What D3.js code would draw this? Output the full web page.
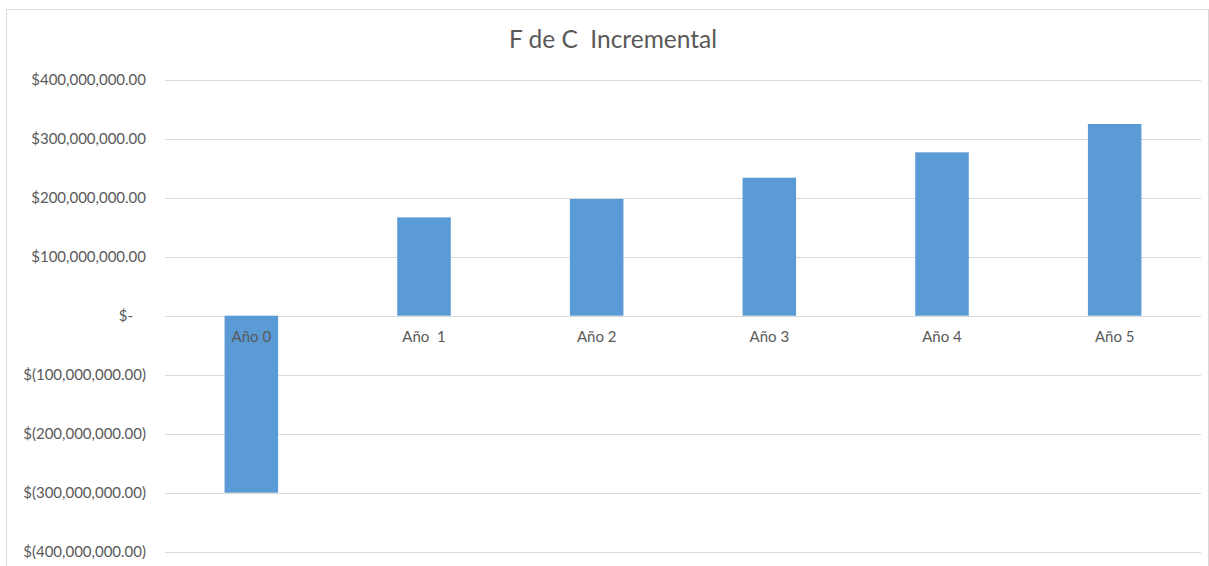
<!DOCTYPE html>
<html>
<head>
<meta charset="utf-8">
<script src="https://cdn.jsdelivr.net/npm/d3@7"></script>
<style>
  body { margin: 0; background: #fff; }
  svg text { font-family: Lato, "Open Sans", sans-serif; fill: #595959; }
</style>
</head>
<body>
<svg id="chart" width="1209" height="566"></svg>
<script>
// cash flow by year
const categories = ['Año 0', 'Año  1', 'Año 2', 'Año 3', 'Año 4', 'Año 5'];
const values = [-300000000, 166700000, 197800000, 233900000, 276900000, 324900000];
const tickValues = [400000000, 300000000, 200000000, 100000000, 0, -100000000, -200000000, -300000000, -400000000];
const tickLabels = ['$400,000,000.00', '$300,000,000.00', '$200,000,000.00', '$100,000,000.00', '$-',
  '$(100,000,000.00)', '$(200,000,000.00)', '$(300,000,000.00)', '$(400,000,000.00)'];
const title = 'F de C  Incremental';

const svg = d3.select('#chart');

// chart frame
svg.append('rect')
  .attr('x', 6.5).attr('y', 9.5)
  .attr('width', 1202).attr('height', 600)
  .attr('fill', 'none')
  .attr('stroke', '#d9d9d9');

const margin = { top: 79.7, left: 165, right: 1201, bottom: 551.7 };

const x = d3.scaleBand()
  .domain(categories)
  .range([margin.left, margin.right])
  .paddingInner(0.69)
  .paddingOuter(0.345);

const y = d3.scaleLinear()
  .domain([-400000000, 400000000])
  .range([margin.bottom, margin.top]);

// gridlines
svg.append('g')
  .selectAll('line')
  .data(tickValues)
  .join('line')
  .attr('x1', margin.left).attr('x2', margin.right)
  .attr('y1', d => Math.round(y(d)) + 0.5)
  .attr('y2', d => Math.round(y(d)) + 0.5)
  .attr('stroke', '#d9d9d9')
  .attr('stroke-width', 1);

// y axis labels (accounting format: the zero label sits left of the others)
const yAxis = d3.axisLeft(y)
  .tickValues(tickValues)
  .tickFormat((d, i) => tickLabels[i])
  .tickSize(0)
  .tickPadding(0);

svg.append('g')
  .attr('transform', 'translate(146,0)')
  .call(yAxis)
  .call(g => g.select('.domain').remove())
  .call(g => g.selectAll('text')
    .attr('font-size', 15)
    .attr('dx', d => d === 0 ? -13 : 0)
    .attr('fill', '#595959'));

// bars
svg.selectAll('.bar')
  .data(values)
  .join('rect')
  .attr('class', 'bar')
  .attr('x', (d, i) => x(categories[i]))
  .attr('y', d => y(Math.max(0, d)))
  .attr('width', x.bandwidth())
  .attr('height', d => Math.abs(y(d) - y(0)))
  .attr('fill', '#5b9bd5');

// category labels sit on the zero line, drawn over the bars
const xAxis = d3.axisBottom(x).tickSize(0).tickPadding(0);
svg.append('g')
  .attr('transform', `translate(0,${y(0) + 15.5})`)
  .call(xAxis)
  .call(g => g.select('.domain').remove())
  .call(g => g.selectAll('text')
    .attr('font-size', 15)
    .style('white-space', 'pre')
    .attr('fill', '#595959'));

// title
svg.append('text')
  .attr('x', 613)
  .attr('y', 48)
  .attr('text-anchor', 'middle')
  .attr('font-size', 24.5)
  .style('white-space', 'pre')
  .text(title);
</script>
</body>
</html>
